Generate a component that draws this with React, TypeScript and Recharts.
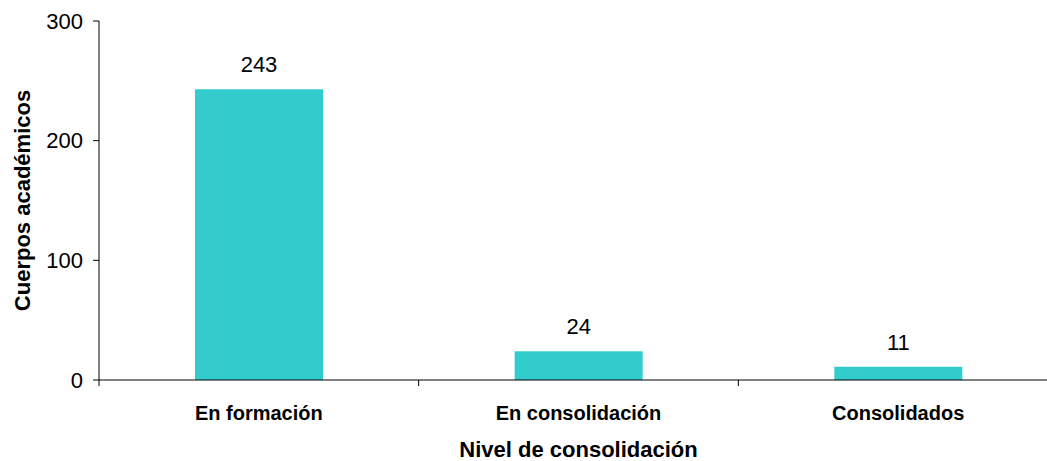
import { BarChart, Bar, XAxis, YAxis, LabelList } from "recharts";

const categories = ["En formación", "En consolidación", "Consolidados"];
const cuerpos = [243, 24, 11];
const yTicks = [0, 100, 200, 300];

const data = categories.map((nivel, i) => ({ nivel, cuerpos: cuerpos[i] }));

const font = '"Liberation Sans", Arial, sans-serif';
const TICK_SIZE = 6;
const TICK_MARGIN = 20;

// category label plus the short tick marks on the band edges
function CategoryTick(props: any) {
  const { x, y, payload, index, visibleTicksCount } = props;
  const half = payload?.offset ?? 0;
  const axisY = y - TICK_SIZE - TICK_MARGIN;
  const last = index === visibleTicksCount - 1;
  return (
    <g>
      <line x1={x - half} x2={x - half} y1={axisY} y2={axisY + TICK_SIZE} stroke="#000" />
      {last && (
        <line x1={x + half} x2={x + half} y1={axisY} y2={axisY + TICK_SIZE} stroke="#000" />
      )}
      <text
        x={x}
        y={y}
        dy="0.71em"
        textAnchor="middle"
        fontSize={20}
        fontWeight="bold"
        fill="#000"
        fontFamily={font}
      >
        {payload.value}
      </text>
    </g>
  );
}

export default function App() {
  return (
    <div
      style={{
        position: "absolute",
        left: 0,
        top: 0,
        width: 1047,
        height: 461,
        overflow: "hidden",
        background: "#fff",
        fontFamily: font,
      }}
    >
      <BarChart
        width={1071}
        height={461}
        data={data}
        margin={{ top: 21, right: 13, left: 0, bottom: 0 }}
      >
        <XAxis
          dataKey="nivel"
          height={81}
          tickLine={false}
          tickSize={TICK_SIZE}
          tickMargin={TICK_MARGIN}
          axisLine={{ stroke: "#000" }}
          tick={<CategoryTick />}
          interval={0}
          label={{
            value: "Nivel de consolidación",
            position: "insideBottom",
            offset: 4,
            fontSize: 22,
            fontWeight: "bold",
            fill: "#000",
            fontFamily: font,
          }}
        />
        <YAxis
          width={99}
          domain={[0, 300]}
          ticks={yTicks}
          interval={0}
          tickSize={6}
          tickMargin={10}
          axisLine={{ stroke: "#000" }}
          tickLine={{ stroke: "#000" }}
          tick={{ fontSize: 22, fill: "#000", fontFamily: font }}
          label={{
            value: "Cuerpos académicos",
            angle: -90,
            position: "insideLeft",
            offset: 22,
            fontSize: 22,
            fontWeight: "bold",
            fill: "#000",
            fontFamily: font,
            style: { textAnchor: "middle" },
          }}
        />
        <Bar dataKey="cuerpos" fill="#33CCCC" barSize={128} isAnimationActive={false}>
          <LabelList
            dataKey="cuerpos"
            position="top"
            offset={17}
            fontSize={22}
            fill="#000"
            fontFamily={font}
          />
        </Bar>
      </BarChart>
    </div>
  );
}
